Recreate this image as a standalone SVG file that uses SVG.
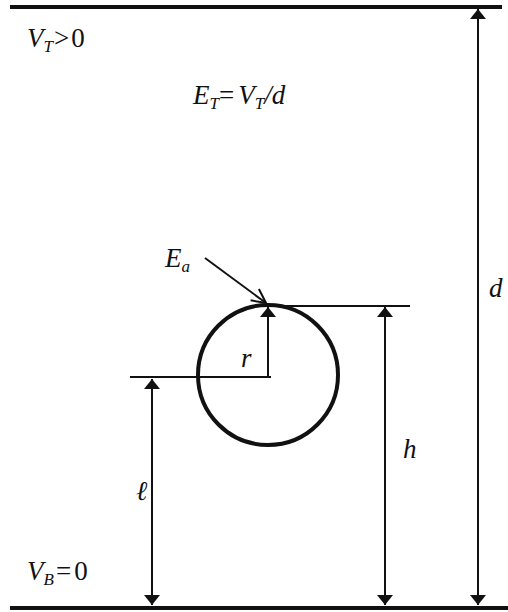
<svg xmlns="http://www.w3.org/2000/svg" width="508" height="612" viewBox="0 0 508 612">
<style>
text{font-family:"Liberation Serif","Times New Roman",serif;font-size:27px;fill:#111}
.i{font-style:italic}
.sub{font-size:17px;font-style:italic}
.ln{stroke:#111;fill:none}
</style>
<defs>
<marker id="ah" viewBox="0 0 10 16" refX="10" refY="8" markerWidth="10" markerHeight="16" markerUnits="userSpaceOnUse" orient="auto-start-reverse">
<path d="M0,0 L10,8 L0,16 Z" fill="#111"/>
</marker>
<marker id="open" viewBox="0 0 16 16" refX="15" refY="8" markerWidth="16" markerHeight="16" markerUnits="userSpaceOnUse" orient="auto">
<path d="M1,1 L15,8 L1,15" fill="none" stroke="#111" stroke-width="2"/>
</marker>
</defs>
<g id="plates">
<line class="ln" x1="10" y1="7" x2="502" y2="7" stroke-width="4"/>
<line class="ln" x1="10" y1="608" x2="508" y2="608" stroke-width="4"/>
</g>
<g id="sphere">
<circle class="ln" cx="268" cy="375" r="70" stroke-width="4"/>
</g>
<g id="connectors">
<line class="ln" x1="262" y1="306" x2="410" y2="306" stroke-width="1.8"/>
<line class="ln" x1="130" y1="377" x2="271" y2="377" stroke-width="1.8"/>
<line class="ln" x1="268" y1="377" x2="268" y2="307" stroke-width="2" marker-end="url(#ah)"/>
<line class="ln" x1="152" y1="379" x2="152" y2="605" stroke-width="2" marker-start="url(#ah)" marker-end="url(#ah)"/>
<line class="ln" x1="385" y1="307" x2="385" y2="605" stroke-width="2" marker-start="url(#ah)" marker-end="url(#ah)"/>
<line class="ln" x1="478" y1="9" x2="478" y2="605" stroke-width="2" marker-start="url(#ah)" marker-end="url(#ah)"/>
<line class="ln" x1="205" y1="258" x2="266" y2="303" stroke-width="2" marker-end="url(#open)"/>
</g>
<g id="labels">
<text x="27" y="47"><tspan class="i">V</tspan><tspan class="sub" dy="5">T</tspan><tspan dy="-5" dx="1">&gt;</tspan><tspan dx="2">0</tspan></text>
<text x="193" y="104"><tspan class="i">E</tspan><tspan class="sub" dy="5">T</tspan><tspan dy="-5">=</tspan><tspan class="i" dx="4">V</tspan><tspan class="sub" dy="5">T</tspan><tspan class="i" dy="-5">/d</tspan></text>
<text x="165" y="267"><tspan class="i">E</tspan><tspan class="sub" dy="5">a</tspan></text>
<text class="i" x="241" y="367">r</text>
<text class="i" x="403" y="458">h</text>
<text class="i" x="136" y="500">ℓ</text>
<text class="i" x="489" y="297">d</text>
<text x="27" y="580"><tspan class="i">V</tspan><tspan class="sub" dy="5">B</tspan><tspan dy="-5" dx="2">=</tspan><tspan dx="3">0</tspan></text>
</g>
</svg>
